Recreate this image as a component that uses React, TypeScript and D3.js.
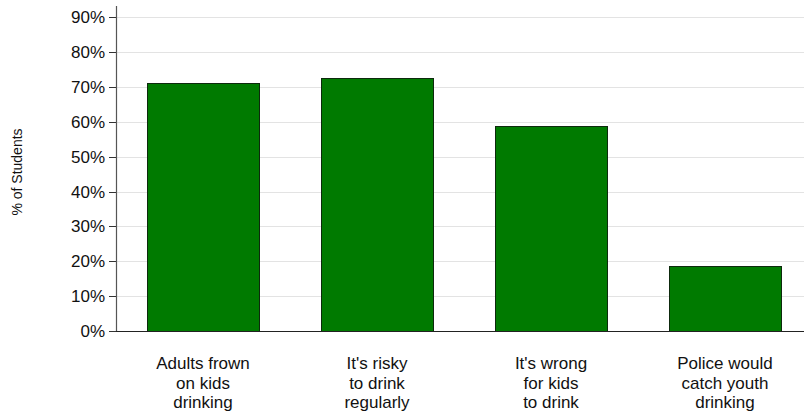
import React from "react";
import * as d3 from "d3";

const categories: string[][] = [
  ["Adults frown", "on kids", "drinking"],
  ["It's risky", "to drink", "regularly"],
  ["It's wrong", "for kids", "to drink"],
  ["Police would", "catch youth", "drinking"],
];
const values: number[] = [71.2, 72.7, 58.7, 18.7];
const yTicks: number[] = [0, 10, 20, 30, 40, 50, 60, 70, 80, 90];
const yTitle = "% of Students";

const W = 804;
const H = 415;
const left = 116;
const right = 812;
const top = 6;
const bottom = 331;

export default function App() {
  const x = d3
    .scaleBand<number>()
    .domain(d3.range(values.length))
    .range([left, right])
    .paddingInner(0.356)
    .paddingOuter(0.178);
  const y = d3.scaleLinear().domain([0, 90]).range([bottom, 17.3]);
  const font = "'Liberation Sans', Arial, Helvetica, sans-serif";

  return (
    <svg
      width={W}
      height={H}
      style={{ position: "absolute", left: 0, top: 0, display: "block" }}
      fontFamily={font}
    >
      <rect x={0} y={0} width={W} height={H} fill="#fff" />
      {yTicks.slice(1).map((t) => (
        <line
          key={"g" + t}
          x1={left}
          x2={W}
          y1={Math.round(y(t)) + 0.5}
          y2={Math.round(y(t)) + 0.5}
          stroke="#e3e3e3"
          strokeWidth={1}
        />
      ))}
      {values.map((v, i) => (
        <rect
          key={"b" + i}
          x={Math.round(x(i)!) + 0.5}
          y={Math.round(y(v)) + 0.5}
          width={Math.round(x.bandwidth())}
          height={Math.round(y(0)) - Math.round(y(v))}
          fill="#007a00"
          stroke="#0d2a0d"
          strokeWidth={1}
        />
      ))}
      <line x1={left + 0.5} x2={left + 0.5} y1={top} y2={bottom} stroke="#555" strokeWidth={1.2} />
      <line x1={left} x2={W} y1={Math.round(y(0)) + 0.5} y2={Math.round(y(0)) + 0.5} stroke="#222" strokeWidth={1} />
      {yTicks.map((t) => (
        <g key={"t" + t}>
          <line
            x1={109}
            x2={left}
            y1={Math.round(y(t)) + 0.5}
            y2={Math.round(y(t)) + 0.5}
            stroke="#333"
            strokeWidth={1}
          />
          <text
            x={105}
            y={y(t)}
            dy="0.35em"
            textAnchor="end"
            fontSize={17}
            fill="#111"
          >
            {t + "%"}
          </text>
        </g>
      ))}
      {categories.map((lines, i) => (
        <text
          key={"c" + i}
          x={x(i)! + x.bandwidth() / 2}
          y={369}
          textAnchor="middle"
          fontSize={17}
          fill="#111"
        >
          {lines.map((l, j) => (
            <tspan key={j} x={x(i)! + x.bandwidth() / 2} y={369 + j * 19.7}>
              {l}
            </tspan>
          ))}
        </text>
      ))}
      <text
        transform={`translate(22, 172) rotate(-90)`}
        textAnchor="middle"
        fontSize={14}
        fill="#111"
      >
        {yTitle}
      </text>
    </svg>
  );
}
